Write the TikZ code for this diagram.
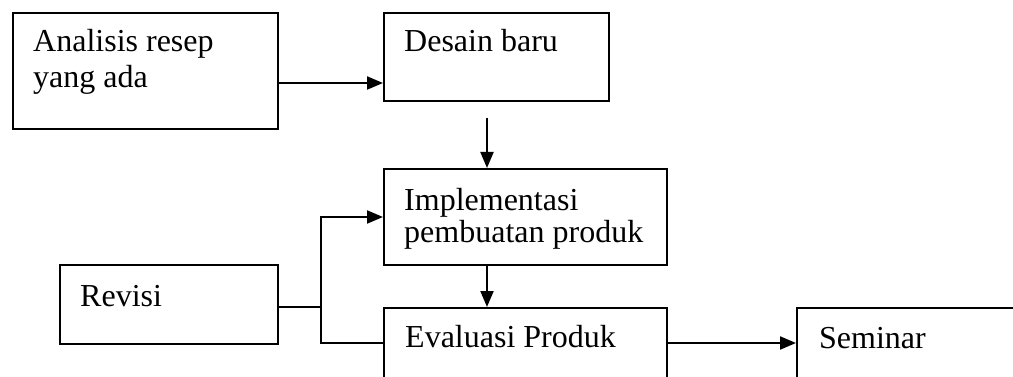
\documentclass[tikz,border=0pt]{standalone}
\usepackage{fontspec}
\setmainfont{Liberation Serif}
\usetikzlibrary{arrows.meta}
\begin{document}
\begin{tikzpicture}[x=1pt,y=-1pt,
  box/.style={draw,line width=2pt,rectangle,inner sep=0pt,anchor=north west},
  txt/.style={inner sep=0pt,anchor=base west,align=left,font=\fontsize{32}{36}\selectfont},
  conn/.style={line width=2pt},
  arr/.style={conn,-{Triangle[length=16pt,width=13pt]}}]
\useasboundingbox (0,0) rectangle (1013,377);
\clip (0,0) rectangle (1013,377);
\node[box,minimum width=265pt,minimum height=116pt] (ana) at (12,12) {};
\node[box,minimum width=225pt,minimum height=88pt] (des) at (383,12) {};
\node[box,minimum width=283pt,minimum height=96pt] (imp) at (383,168) {};
\node[box,minimum width=218pt,minimum height=79pt] (rev) at (59,264) {};
\node[box,minimum width=283pt,minimum height=120pt] (eva) at (383,307) {};
\node[box,minimum width=260pt,minimum height=120pt] (sem) at (796,307) {};
\node[txt] (tana) at (33,88) {Analisis resep\\yang ada};
\node[txt] (tdes) at (404,52) {Desain baru};
\node[txt,font=\fontsize{32}{32}\selectfont] (timp) at (404,242) {Implementasi\\pembuatan produk};
\node[txt] (trev) at (80,306) {Revisi};
\node[txt] (teva) at (405,347) {Evaluasi Produk};
\node[txt] (tsem) at (819,348) {Seminar};
\coordinate (a1) at (277,83);
\draw[arr] (a1) -- (a1 -| des.west);
\coordinate (d1) at (487,118);
\draw[arr] (d1) -- (d1 |- imp.north);
\coordinate (i1) at (487,264);
\draw[arr] (i1) -- (i1 |- eva.north);
\coordinate (r1) at (277,307);
\coordinate (j1) at (321,307);
\coordinate (j2) at (321,217);
\coordinate (j3) at (321,343);
\draw[conn] (r1) -- (j1);
\draw[arr,line join=miter] (j3 -| eva.west) -- (j3) -- (j2) -- (j2 -| imp.west);
\coordinate (e1) at (666,343);
\draw[arr] (e1) -- (e1 -| sem.west);
\end{tikzpicture}
\end{document}
